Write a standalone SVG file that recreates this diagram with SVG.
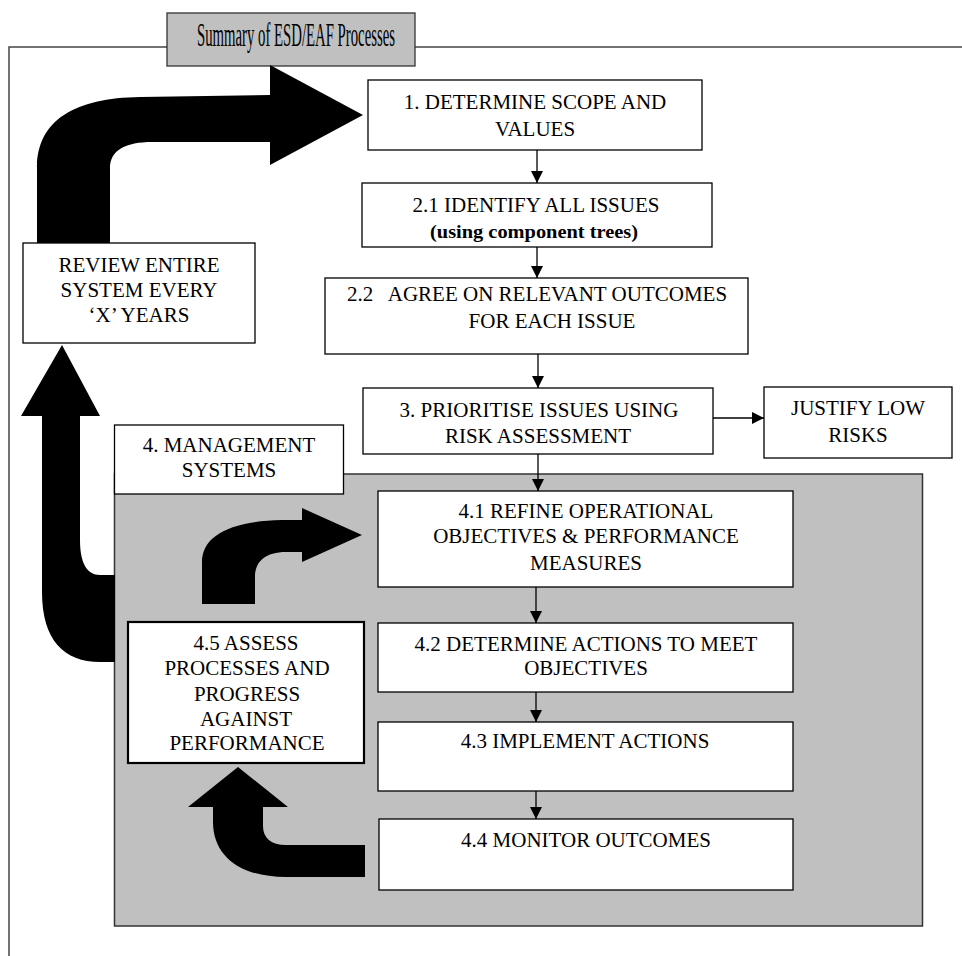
<svg xmlns="http://www.w3.org/2000/svg" width="962" height="956" viewBox="0 0 962 956">
  <style>
    .box { fill: #ffffff; stroke: #000000; stroke-width: 1.3; }
    .t { font-family: "Liberation Serif", "Tinos", "DejaVu Serif", "Noto Serif", serif; font-size: 21px; fill: #000000; text-anchor: middle; }
    .sm { font-size: 19px; font-weight: bold; }
    .conn { stroke: #000000; stroke-width: 1.3; fill: none; }
    .fat { fill: #000000; stroke: none; }
  </style>
  <defs>
    <marker id="head" markerUnits="userSpaceOnUse" markerWidth="12" markerHeight="12" viewBox="0 0 12 12" refX="12" refY="6" orient="auto">
      <path d="M0,0 L12,6 L0,12 Z" fill="#000000"/>
    </marker>
  </defs>

  <!-- outer frame -->
  <g id="frame">
    <path d="M9,956 L9,47 L962,47" fill="none" stroke="#444444" stroke-width="1.5"/>
  </g>

  <!-- title -->
  <g id="title">
    <rect x="167" y="13" width="248" height="53" fill="#c0c0c0" stroke="#333333" stroke-width="1.3"/>
    <text x="296" y="46" class="t" font-size="33" style="font-size:33px" textLength="198" lengthAdjust="spacingAndGlyphs">Summary of ESD/EAF Processes</text>
  </g>

  <!-- management systems panel -->
  <g id="management-panel">
    <rect x="114.5" y="474" width="808" height="452" fill="#c0c0c0" stroke="#333333" stroke-width="1.5"/>
  </g>
  <g id="management-label">
    <rect x="114.5" y="425" width="229" height="69" class="box"/>
    <text x="229" y="452" class="t">4. MANAGEMENT</text>
    <text x="229" y="477" class="t">SYSTEMS</text>
  </g>

  <!-- block arrows -->
  <g id="block-arrows">
    <!-- review -> scope -->
    <path class="fat" d="M37,243 L37,168 C37,120 75,98 140,97 L270,95 L270,65 L363,115 L270,165 L270,142 L152,142 C126,142 110,150 110,168 L110,243 Z"/>
    <!-- management -> review -->
    <path class="fat" d="M115,575 L100,575 C87,575 80,563 80,540 L80,416 L100,416 L62,345 L21,416 L42,416 L42,592 C42,640 64,662 100,662 L115,662 Z"/>
    <!-- assess -> refine -->
    <path class="fat" d="M202,604 L202,562 C202,536 230,521 282,520 L302,520 L302,508 L362,535 L302,562 L302,552 L286,552 C266,552 255,561 255,577 L255,604 Z"/>
    <!-- monitor -> assess -->
    <path class="fat" d="M365,845 L286,845 C271,845 263,838 263,826 L263,807 L288,807 L238,767 L188,807 L213,807 L213,822 C213,856 240,877 286,877 L365,877 Z"/>
  </g>

  <!-- nodes -->
  <g id="review">
    <rect x="23" y="243" width="232" height="100" class="box"/>
    <text x="139" y="272" class="t">REVIEW ENTIRE</text>
    <text x="139" y="297" class="t">SYSTEM EVERY</text>
    <text x="139" y="322" class="t">‘X’ YEARS</text>
  </g>

  <g id="n1">
    <rect x="368" y="80" width="334" height="70" class="box"/>
    <text x="535" y="109" class="t">1. DETERMINE SCOPE AND</text>
    <text x="535" y="136" class="t">VALUES</text>
  </g>

  <g id="n2-1">
    <rect x="362" y="183" width="350" height="64" class="box"/>
    <text x="536" y="212" class="t">2.1 IDENTIFY ALL ISSUES</text>
    <text x="534" y="238" class="t sm" textLength="208" lengthAdjust="spacingAndGlyphs">(using component trees)</text>
  </g>

  <g id="n2-2">
    <rect x="325" y="278" width="423" height="76" class="box"/>
    <text x="537" y="301" class="t" xml:space="preserve">2.2   AGREE ON RELEVANT OUTCOMES</text>
    <text x="552" y="328" class="t">FOR EACH ISSUE</text>
  </g>

  <g id="n3">
    <rect x="363" y="388" width="350" height="66" class="box"/>
    <text x="539" y="417" class="t">3. PRIORITISE ISSUES USING</text>
    <text x="538" y="443" class="t">RISK ASSESSMENT</text>
  </g>

  <g id="justify">
    <rect x="764" y="387" width="188" height="71" class="box"/>
    <text x="858" y="415" class="t">JUSTIFY LOW</text>
    <text x="858" y="442" class="t">RISKS</text>
  </g>

  <g id="n4-1">
    <rect x="378" y="491" width="415" height="96" class="box"/>
    <text x="586" y="518" class="t">4.1 REFINE OPERATIONAL</text>
    <text x="586" y="543" class="t">OBJECTIVES &amp; PERFORMANCE</text>
    <text x="586" y="570" class="t">MEASURES</text>
  </g>

  <g id="n4-2">
    <rect x="378" y="623" width="415" height="69" class="box"/>
    <text x="586" y="651" class="t">4.2 DETERMINE ACTIONS TO MEET</text>
    <text x="586" y="675" class="t">OBJECTIVES</text>
  </g>

  <g id="n4-3">
    <rect x="378" y="722" width="415" height="69" class="box"/>
    <text x="585" y="748" class="t">4.3 IMPLEMENT ACTIONS</text>
  </g>

  <g id="n4-4">
    <rect x="379" y="819" width="414" height="71" class="box"/>
    <text x="586" y="847" class="t">4.4 MONITOR OUTCOMES</text>
  </g>

  <g id="n4-5">
    <rect x="128" y="622" width="236" height="141" fill="#ffffff" stroke="#000000" stroke-width="2.2"/>
    <text x="246" y="650" class="t">4.5 ASSESS</text>
    <text x="247" y="675" class="t">PROCESSES AND</text>
    <text x="247" y="701" class="t">PROGRESS</text>
    <text x="246" y="726" class="t">AGAINST</text>
    <text x="247" y="750" class="t">PERFORMANCE</text>
  </g>

  <!-- connectors -->
  <g id="connectors">
    <line x1="537" y1="150" x2="537" y2="183" class="conn" marker-end="url(#head)"/>
    <line x1="537" y1="247" x2="537" y2="278" class="conn" marker-end="url(#head)"/>
    <line x1="538" y1="354" x2="538" y2="388" class="conn" marker-end="url(#head)"/>
    <line x1="713" y1="418" x2="764" y2="418" class="conn" marker-end="url(#head)"/>
    <line x1="538" y1="454" x2="538" y2="491" class="conn" marker-end="url(#head)"/>
    <line x1="536" y1="587" x2="536" y2="623" class="conn" marker-end="url(#head)"/>
    <line x1="536" y1="692" x2="536" y2="722" class="conn" marker-end="url(#head)"/>
    <line x1="536" y1="791" x2="536" y2="819" class="conn" marker-end="url(#head)"/>
  </g>
</svg>
